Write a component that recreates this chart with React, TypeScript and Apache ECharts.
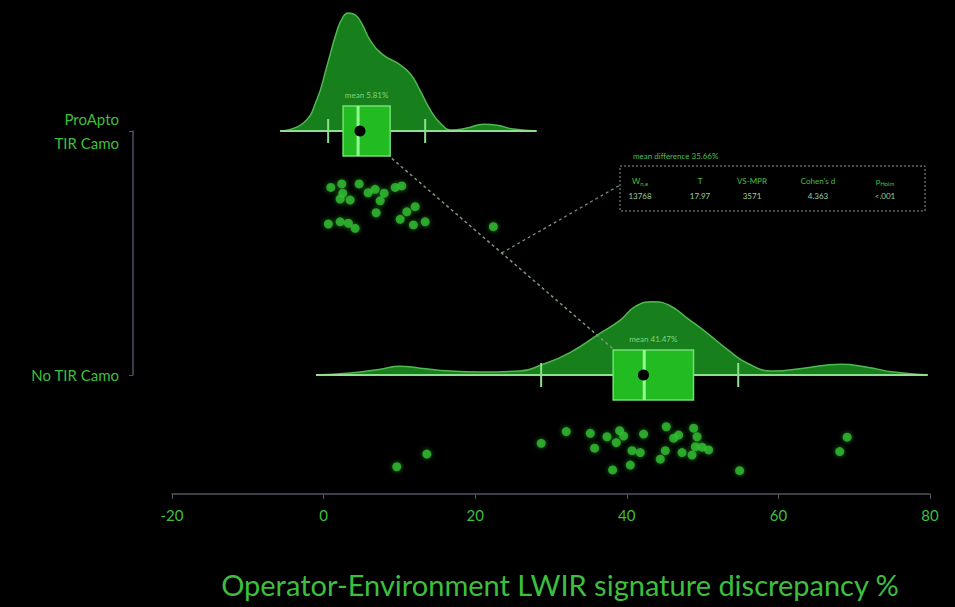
import React, { useEffect, useRef } from "react";
import * as echarts from "echarts";

// ---------- data ----------
const groupNames = ["No TIR Camo", "ProApto\nTIR Camo"]; // index 0 = bottom, 1 = top
const xTicks = [-20, 0, 20, 40, 60, 80];

// half-violin densities (value %, density)
const topDensX = [-5.74, -2.71, -0.9, 0.42, 1.74, 2.57, 3.23, 4.16, 5.04, 6.14, 7.85, 9.66, 11.4, 12.7, 14.05, 15.4, 16.9, 18.9, 21.1, 22.9, 25.0, 28.1];
const topDensY = [0, 0.008, 0.032, 0.066, 0.102, 0.117, 0.121, 0.119, 0.11, 0.093, 0.078, 0.07, 0.059, 0.042, 0.022, 0.008, 0.001, 0.003, 0.007, 0.006, 0.002, 0];
const botDensX = [-1.0, 3.5, 7.5, 10.1, 12.7, 16.7, 20.7, 25.9, 28.6, 32.5, 36.5, 39.1, 41.1, 43.5, 45.7, 48.0, 50.6, 53.3, 55.9, 59.4, 63.3, 68.2, 71.7, 75.2, 79.7];
const botDensY = [0, 0.002, 0.006, 0.009, 0.007, 0.004, 0.003, 0.004, 0.01, 0.023, 0.043, 0.056, 0.07, 0.075, 0.071, 0.058, 0.043, 0.026, 0.012, 0.004, 0.007, 0.011, 0.008, 0.003, 0];

// raw observations with their jitter offset below the group line
const topDotsX = [0.95, 2.4, 2.53, 2.18, 3.5, 4.69, 5.87, 6.8, 7.99, 7.46, 9.44, 10.32, 12.08, 10.98, 10.1, 6.93, 13.4, 11.85, 0.63, 2.18, 3.27, 4.16, 22.4];
const topDotsJit = [0.231, 0.217, 0.255, 0.279, 0.283, 0.217, 0.253, 0.239, 0.255, 0.286, 0.231, 0.225, 0.31, 0.331, 0.362, 0.335, 0.372, 0.385, 0.381, 0.372, 0.378, 0.399, 0.392];
const botDotsX = [9.66, 13.62, 28.71, 32.01, 35.18, 37.39, 39.05, 39.58, 38.61, 35.75, 40.69, 41.78, 42.22, 40.46, 38.13, 44.42, 45.21, 45.08, 46.18, 46.84, 47.29, 48.82, 49.27, 49.04, 48.61, 49.93, 50.8, 54.89, 68.09, 69.07];
const botDotsJit = [0.376, 0.324, 0.28, 0.232, 0.239, 0.253, 0.228, 0.25, 0.277, 0.3, 0.31, 0.318, 0.242, 0.369, 0.389, 0.345, 0.212, 0.31, 0.259, 0.246, 0.318, 0.218, 0.253, 0.294, 0.328, 0.296, 0.307, 0.392, 0.314, 0.255];

// box statistics per group [No TIR Camo, ProApto TIR Camo]
const boxLow = [28.7, 0.6];
const boxQ1 = [38.2, 2.57];
const boxMedian = [42.3, 4.55];
const boxQ3 = [48.8, 8.78];
const boxHigh = [54.7, 13.4];
const meanValue = [42.2, 4.8];
const meanLabels = ["mean 41.47%", "mean 5.81%"];

const meanDiffLabel = "mean difference 35.66%";
const statHeaders = ["W", "T", "VS-MPR", "Cohen's d", "p"];
const statSubs = ["n,e", "", "", "", "Holm"];
const statValues = ["13768", "17.97", "3571", "4.363", "<.001"];

const DENS_SCALE = 4;
const FONT = "Lato, 'Open Sans', sans-serif";
const GREEN = "#3dbf3d";

export default function App() {
  const ref = useRef<HTMLDivElement>(null);
  useEffect(() => {
    if (!ref.current) return;
    const chart = echarts.init(ref.current, undefined, { renderer: "svg" });

    const midX = (meanValue[0] + meanValue[1]) / 2;
    const colX = [640, 700, 752, 818, 885];
    const dotStyle = { color: "#2fbf2f", shadowBlur: 5, shadowColor: "rgba(60,200,60,0.7)" };

    const option: any = {
      animation: false,
      backgroundColor: "#000",
      grid: [
        { left: 172, right: 25, top: 0, bottom: 113 },
        { left: 133, width: 20, top: 131, height: 244 },
      ],
      xAxis: [
        {
          type: "value",
          gridIndex: 0,
          min: -20,
          max: 80,
          interval: 20,
          axisLine: { onZero: false, lineStyle: { color: "#50555c", width: 1.5 } },
          axisTick: { show: true, length: 5, lineStyle: { color: "#50555c" } },
          axisLabel: {
            color: GREEN,
            fontSize: 15,
            fontFamily: FONT,
            margin: 13,
            customValues: xTicks,
          },
          splitLine: { show: false },
          name: "Operator-Environment LWIR signature discrepancy %",
          nameLocation: "middle",
          nameGap: 76,
          nameTextStyle: { color: GREEN, fontSize: 29, fontFamily: FONT, padding: [0, 0, 0, 18] },
        },
        { type: "value", gridIndex: 1, show: false },
      ],
      yAxis: [
        { type: "value", gridIndex: 0, min: -0.4877, max: 1.537, show: false },
        {
          type: "category",
          gridIndex: 1,
          data: groupNames,
          boundaryGap: false,
          axisLine: { lineStyle: { color: "#4a5060", width: 1.5 } },
          axisTick: { length: 4, lineStyle: { color: "#4a5060" } },
          axisLabel: { color: GREEN, fontSize: 15, fontFamily: FONT, margin: 14, lineHeight: 24, align: "right" },
          splitLine: { show: false },
        },
      ],
      series: [
        {
          type: "line",
          data: topDensX.map((x, i) => [x, 1 + topDensY[i] * DENS_SCALE]),
          smooth: 0.5,
          symbol: "none",
          lineStyle: { color: "#50b850", width: 1.5 },
          areaStyle: { color: "#17801c", opacity: 1, origin: 1 },
          z: 1,
        },
        {
          type: "line",
          data: botDensX.map((x, i) => [x, 0 + botDensY[i] * DENS_SCALE]),
          smooth: 0.5,
          symbol: "none",
          lineStyle: { color: "#50b850", width: 1.5 },
          areaStyle: { color: "#17801c", opacity: 1, origin: 0 },
          z: 1,
        },
        {
          type: "line",
          data: [[topDensX[0], 1], [topDensX[topDensX.length - 1], 1]],
          symbol: "none",
          lineStyle: { color: "#8ee08e", width: 2 },
          z: 3,
        },
        {
          type: "line",
          data: [[botDensX[0], 0], [botDensX[botDensX.length - 1], 0]],
          symbol: "none",
          lineStyle: { color: "#8ee08e", width: 2 },
          z: 3,
        },
        {
          type: "line",
          data: [[meanValue[1], 1], [meanValue[0], 0]],
          symbol: "none",
          lineStyle: { color: "#7d967d", width: 1.5, type: [3, 3] },
          z: 2,
        },
        {
          type: "line",
          data: [[midX, 0.5], [39.14, 0.779]],
          symbol: "none",
          lineStyle: { color: "#7d967d", width: 1.2, type: [3, 3] },
          z: 2,
        },
        {
          type: "custom",
          z: 4,
          encode: { x: [1, 2, 3, 4, 5, 6], y: 0 },
          data: [0, 1].map((g) => [g, boxLow[g], boxQ1[g], boxMedian[g], boxQ3[g], boxHigh[g], meanValue[g]]),
          renderItem: (params: any, api: any) => {
            const g = api.value(0);
            const lo = api.coord([api.value(1), g]);
            const q1 = api.coord([api.value(2), g]);
            const md = api.coord([api.value(3), g]);
            const q3 = api.coord([api.value(4), g]);
            const hi = api.coord([api.value(5), g]);
            const mn = api.coord([api.value(6), g]);
            const hb = 25;
            const hw = 12;
            const y = lo[1];
            return {
              type: "group",
              children: [
                { type: "line", shape: { x1: lo[0], y1: y - hw, x2: lo[0], y2: y + hw }, style: { stroke: "#8ee08e", lineWidth: 2 } },
                { type: "line", shape: { x1: hi[0], y1: y - hw, x2: hi[0], y2: y + hw }, style: { stroke: "#8ee08e", lineWidth: 2 } },
                {
                  type: "rect",
                  shape: { x: q1[0], y: y - hb, width: q3[0] - q1[0], height: 2 * hb },
                  style: { fill: "#22bb22", stroke: "#70e070", lineWidth: 1.5 },
                },
                { type: "line", shape: { x1: md[0], y1: y - hb, x2: md[0], y2: y + hb }, style: { stroke: "#90ff90", lineWidth: 3 } },
                { type: "circle", shape: { cx: mn[0], cy: y, r: 5.5 }, style: { fill: "#000" } },
                {
                  type: "text",
                  x: (q1[0] + q3[0]) / 2,
                  y: y - hb - 11,
                  style: {
                    text: meanLabels[g],
                    fill: "rgba(150,225,150,0.85)",
                    fontSize: 8,
                    fontFamily: FONT,
                    align: "center",
                    verticalAlign: "middle",
                  },
                },
              ],
            };
          },
        },
        {
          type: "scatter",
          data: topDotsX.map((x, i) => [x, 1 - topDotsJit[i]]),
          symbolSize: 9,
          itemStyle: dotStyle,
          z: 5,
        },
        {
          type: "scatter",
          data: botDotsX.map((x, i) => [x, 0 - botDotsJit[i]]),
          symbolSize: 9,
          itemStyle: dotStyle,
          z: 5,
        },
      ],
      graphic: [
        {
          type: "text",
          left: 633,
          top: 152,
          style: { text: meanDiffLabel, fill: "#4fbf4f", fontSize: 8, fontFamily: FONT },
        },
        {
          type: "rect",
          shape: { x: 620, y: 166, width: 305, height: 45 },
          style: { fill: "none", stroke: "#8a9a8a", lineWidth: 1, lineDash: [2, 2] },
        },
        ...statHeaders.map((h, i) => ({
          type: "text",
          x: colX[i],
          y: 181,
          style: {
            text: statSubs[i] ? `{m|${h}}{s|${statSubs[i]}}` : `{m|${h}}`,
            align: "center",
            verticalAlign: "middle",
            rich: {
              m: { fill: "#45c045", fontSize: 8, fontFamily: FONT },
              s: { fill: "#45c045", fontSize: 6, fontFamily: FONT, padding: [5, 0, 0, 0] },
            },
          },
        })),
        ...statValues.map((v, i) => ({
          type: "text",
          x: colX[i],
          y: 196,
          style: { text: v, fill: "#9fcf9f", fontSize: 8, fontFamily: FONT, align: "center", verticalAlign: "middle" },
        })),
      ],
    };

    chart.setOption(option);
    return () => chart.dispose();
  }, []);

  return (
    <div
      ref={ref}
      style={{ position: "fixed", left: 0, top: 0, width: 955, height: 607, background: "#000" }}
    />
  );
}
